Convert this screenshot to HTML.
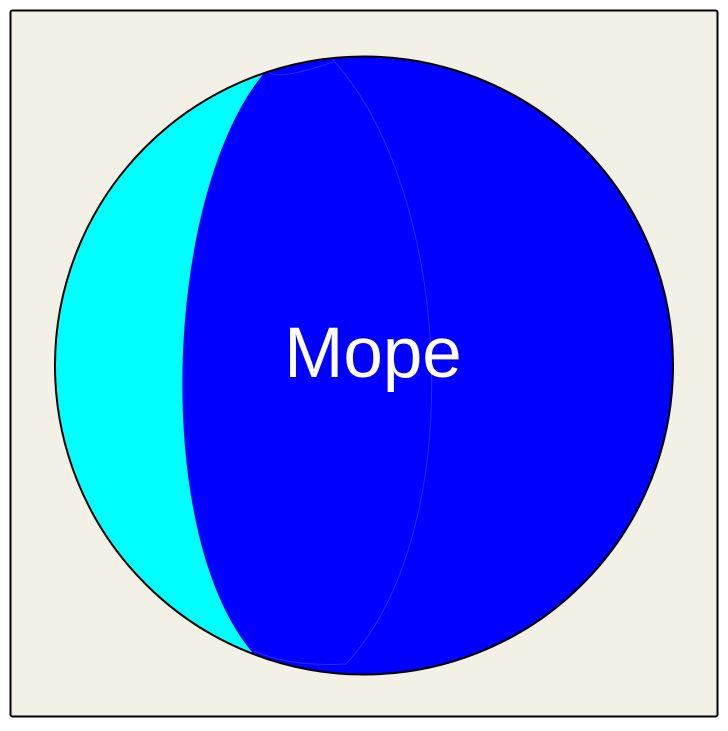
<!DOCTYPE html>
<html><head><meta charset="utf-8"><style>
html,body{margin:0;padding:0;background:#fff;}
svg{display:block;}
</style></head><body>
<svg width="728" height="731" viewBox="0 0 728 731">
<defs><clipPath id="c"><circle cx="364" cy="365.5" r="309"/></clipPath></defs>
<rect x="10.5" y="10.5" width="707" height="706" fill="#f3f1e6" stroke="#000" stroke-width="2" rx="2"/>
<circle cx="364" cy="365.5" r="309" fill="#0000ff"/>
<g clip-path="url(#c)">
<path d="M265 72 C 165 190, 150 530, 252 652 L 0 720 L 0 0 Z" fill="#00ffff"/>
<path d="M333 60 C 452 190, 472 530, 345 665" fill="none" stroke="#2a2aff" stroke-width="1"/>
<path d="M268 71 Q275 82 333 62" fill="none" stroke="#2a2aff" stroke-width="1"/>
<path d="M254 651 Q290 667 345 664" fill="none" stroke="#2a2aff" stroke-width="1"/>
</g>
<circle cx="364" cy="365.5" r="309" fill="none" stroke="#000" stroke-width="2"/>
<text x="373" y="377" text-anchor="middle" font-family="Liberation Sans, sans-serif" font-size="71" fill="#fff">Mope</text>
</svg>
</body></html>
